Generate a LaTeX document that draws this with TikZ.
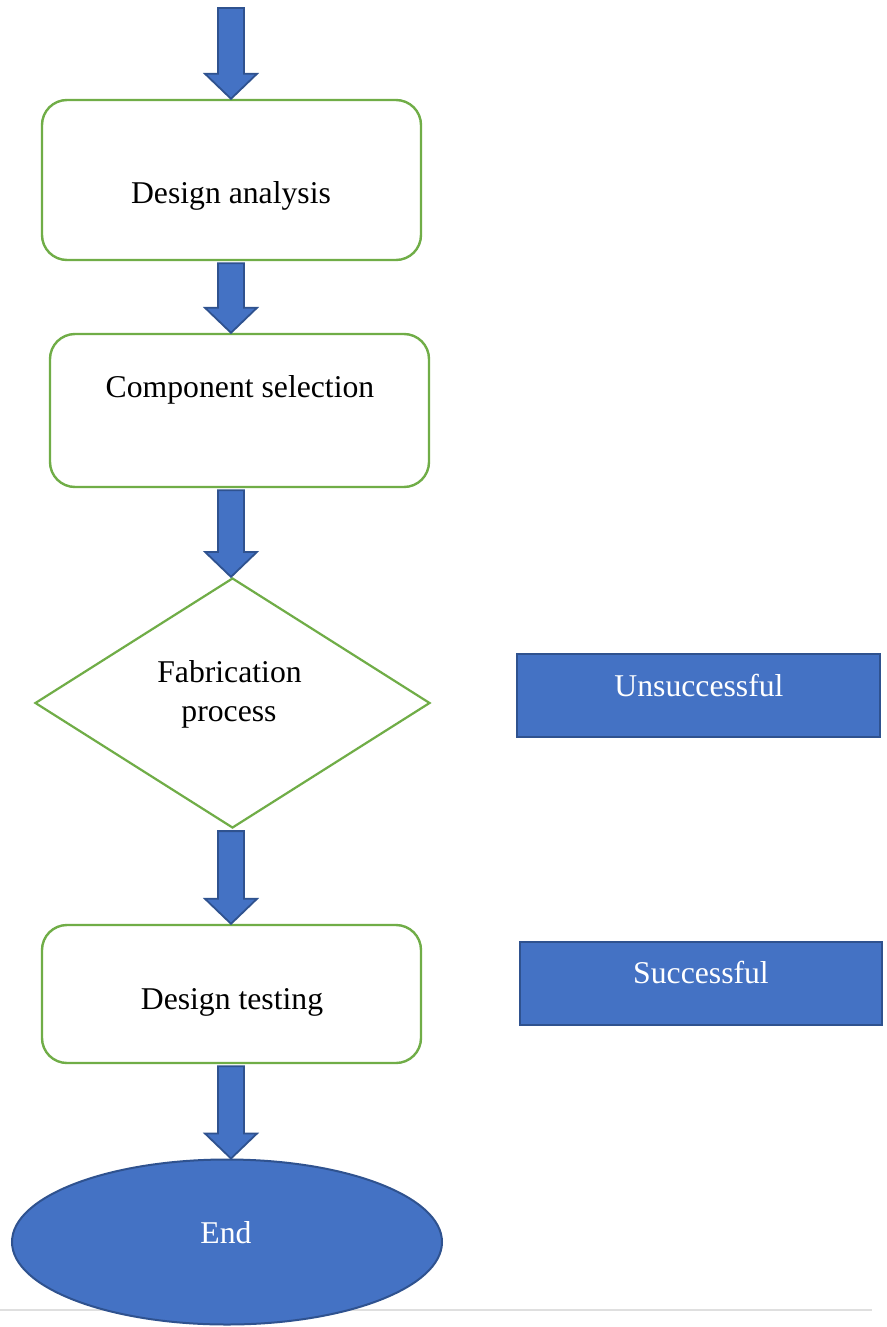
\documentclass[tikz,border=0pt]{standalone}
\usepackage{fontspec}
\setmainfont{Liberation Serif}
\usetikzlibrary{calc,shapes.geometric}
\definecolor{blu}{HTML}{4472C4}
\definecolor{bluedge}{HTML}{2F528F}
\definecolor{grn}{HTML}{70AD47}
\tikzset{
  stepbox/.style={draw=grn, line width=2.4pt, fill=white, rounded corners=25pt, minimum width=379pt, inner sep=0pt},
  decision/.style={draw=grn, line width=2.2pt, fill=white, diamond, minimum width=395pt, minimum height=250pt, inner sep=0pt},
  bluebox/.style={draw=bluedge, line width=2pt, fill=blu, rectangle, inner sep=0pt},
  endnode/.style={draw=bluedge, line width=2pt, fill=blu, ellipse, minimum width=430pt, minimum height=165pt, inner sep=0pt},
  lbl/.style={anchor=base, inner sep=0pt, font=\fontsize{31.7}{38}\selectfont},
  wlbl/.style={lbl, text=white},
  blk/.style={fill=blu, draw=bluedge, line width=1.8pt, line join=miter}
}
\newcommand\blkarrow[2]{%
  \path[blk] let \p1=(#1), \p2=(#2) in
    (218pt,\y1-2pt) -- (244pt,\y1-2pt) -- (244pt,\y2+25pt) -- (257pt,\y2+25pt)
    -- (231pt,\y2) -- (205pt,\y2+25pt) -- (218pt,\y2+25pt) -- cycle;}
\begin{document}
\begin{tikzpicture}[x=1pt,y=-1pt]
\useasboundingbox (0,0) rectangle (886,1327);
\fill[white] (0,0) rectangle (886,1327);
% separator line
\draw[gray!25, line width=1.5pt] (0,1310) -- (872,1310);

\coordinate (top) at (231,6);
\node[stepbox, minimum height=160pt] (b1) at (231.5,180) {};
\node[stepbox, minimum height=153pt] (b2) at (239.5,410.5) {};
\node[decision] (dia) at (232.5,703) {};
\node[stepbox, minimum height=138pt] (b4) at (231.5,994) {};
\node[endnode] (en) at (227,1242) {};
\node[bluebox, minimum width=363pt, minimum height=83pt] (uns) at (698.5,695.5) {};
\node[bluebox, minimum width=362pt, minimum height=83pt] (suc) at (701,983.5) {};

\node[lbl] (t1) at (231,203) {Design analysis};
\node[lbl] (t2) at (240,397) {Component selection};
\node[lbl] (t3a) at (229.5,682) {Fabrication};
\node[lbl] (t3b) at (229,721) {process};
\node[lbl] (t4) at (232,1009) {Design testing};
\node[wlbl] (t5) at (226,1243) {End};
\node[wlbl] (tu) at (699,696) {Unsuccessful};
\node[wlbl] (ts) at (701,983) {Successful};

\blkarrow{top}{b1.north}
\blkarrow{b1.south}{b2.north}
\blkarrow{b2.south}{dia.north}
\blkarrow{dia.south}{b4.north}
\blkarrow{b4.south}{en.north}
\end{tikzpicture}
\end{document}
